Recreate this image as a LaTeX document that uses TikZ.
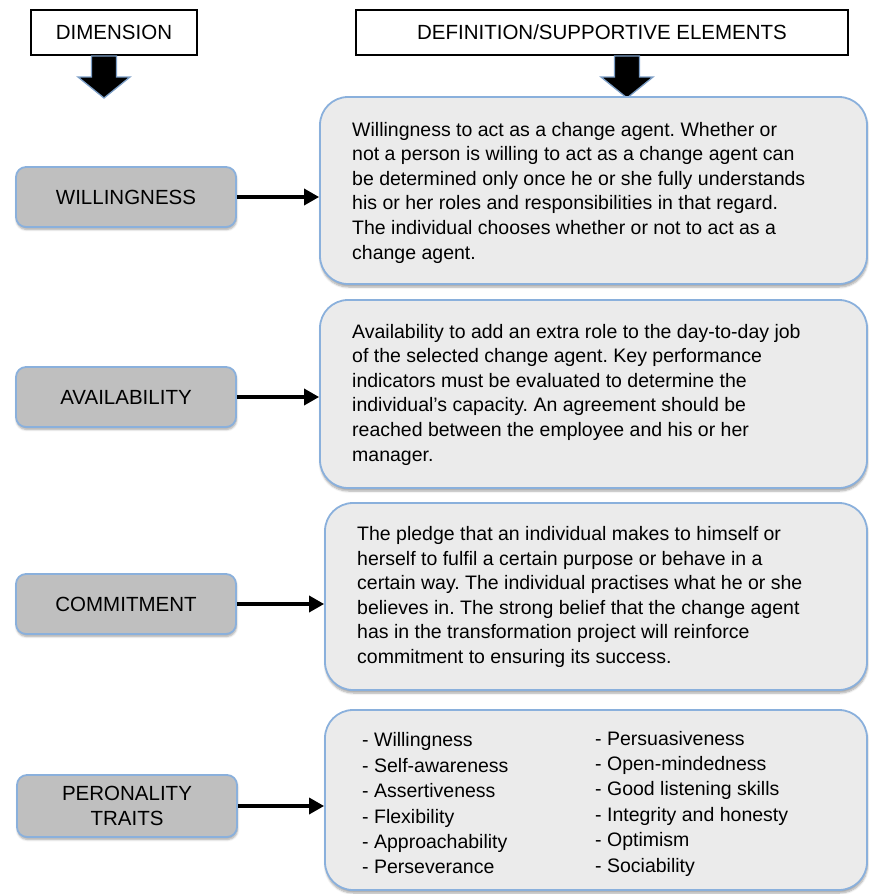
\documentclass[tikz,border=0pt]{standalone}
\usepackage{fontspec}
\setmainfont{Liberation Sans}
\usepackage{tikz}
\usepackage{xcolor}
\usetikzlibrary{
    arrows.meta,
    shadows.blur,
    calc,
    positioning
}
\definecolor{edgeblue}{HTML}{8AB0DC}
\definecolor{dimgray}{HTML}{BFBFBF}
\definecolor{defgray}{HTML}{EBEBEB}
\frenchspacing

\begin{document}
\begin{tikzpicture}[x=1pt, y=-1pt,
    header/.style={draw=black, line width=1.3pt, fill=white, inner sep=0pt,
        font=\fontsize{20.5}{24}\selectfont},
    dimbox/.style={draw=edgeblue, line width=1.8pt, fill=dimgray, rounded corners=10pt,
        minimum width=220pt, minimum height=60pt, align=center, inner sep=0pt,
        font=\fontsize{20.5}{25}\selectfont,
        blur shadow={shadow xshift=0.5pt, shadow yshift=-2.5pt, shadow blur steps=6, shadow opacity=35}},
    defbox/.style={draw=edgeblue, line width=1.8pt, fill=defgray, rounded corners=28pt,
        blur shadow={shadow xshift=0.5pt, shadow yshift=-3pt, shadow blur steps=6, shadow opacity=35}},
    deftext/.style={anchor=west, align=left, inner sep=0pt,
        font=\fontsize{19.5}{24.6}\selectfont},
    link/.style={line width=3.4pt, -{Triangle[length=15pt, width=16pt]}},
    downarrow/.pic={
        \draw[fill=black, draw=edgeblue!90!black, line width=1.3pt, line join=miter]
        (-12.5, 0) -- (-12.5, 21) -- (-26, 21) -- (0, 42) -- (26, 21) -- (12.5, 21) -- (12.5, 0) -- cycle;
    }
]
    \useasboundingbox (0, 0) rectangle (869, 894);

    \node[header, minimum width=166pt, minimum height=45pt] (dim) at (114, 32.5) {DIMENSION};
    \node[header, minimum width=492pt, minimum height=45pt] (def) at (602, 32.5) {DEFINITION/SUPPORTIVE ELEMENTS};
    \pic at (104, 56) {downarrow};
    \pic at (627, 56) {downarrow};

    \node[dimbox] (will) at (126, 197) {WILLINGNESS};
    \node[dimbox] (avail) at (126, 397) {AVAILABILITY};
    \node[dimbox] (commit) at (126, 604) {COMMITMENT};
    \node[dimbox, minimum height=62pt] (pers) at (127, 806) {PERONALITY\\TRAITS};

    \node[defbox, minimum width=547pt, minimum height=187pt] (willdef) at (593.5, 190.5) {};
    \node[defbox, minimum width=547pt, minimum height=188pt] (availdef) at (593.5, 394) {};
    \node[defbox, minimum width=542pt, minimum height=187pt] (commitdef) at (596, 596.5) {};
    \node[defbox, minimum width=542pt, minimum height=180pt] (persdef) at (596, 800) {};

    \node[deftext] (willtext) at (352, 192.5) {Willingness to act as a change agent. Whether or\\
        not a person is willing to act as a change agent can\\
        be determined only once he or she fully understands\\
        his or her roles and responsibilities in that regard.\\
        The individual chooses whether or not to act as a\\
        change agent.};
    \node[deftext] (availtext) at (352, 394.5) {Availability to add an extra role to the day-to-day job\\
        of the selected change agent. Key performance\\
        indicators must be evaluated to determine the\\
        individual’s capacity. An agreement should be\\
        reached between the employee and his or her\\
        manager.};
    \node[deftext] (committext) at (357, 597) {The pledge that an individual makes to himself or\\
        herself to fulfil a certain purpose or behave in a\\
        certain way. The individual practises what he or she\\
        believes in. The strong belief that the change agent\\
        has in the transformation project will reinforce\\
        commitment to ensuring its success.};
    \node[deftext, font=\fontsize{19.5}{25.4}\selectfont] (perstextA) at (362, 803.5) {- Willingness\\
        - Self-awareness\\
        - Assertiveness\\
        - Flexibility\\
        - Approachability\\
        - Perseverance};
    \node[deftext, font=\fontsize{19.5}{25.4}\selectfont] (perstextB) at (595, 803.5) {- Persuasiveness\\
        - Open-mindedness\\
        - Good listening skills\\
        - Integrity and honesty\\
        - Optimism\\
        - Sociability};

    \draw[link] (will.east) -- (will.east -| willdef.west);
    \draw[link] (avail.east) -- (avail.east -| availdef.west);
    \draw[link] (commit.east) -- (commit.east -| commitdef.west);
    \draw[link] (pers.east) -- (pers.east -| persdef.west);
\end{tikzpicture}
\end{document}
